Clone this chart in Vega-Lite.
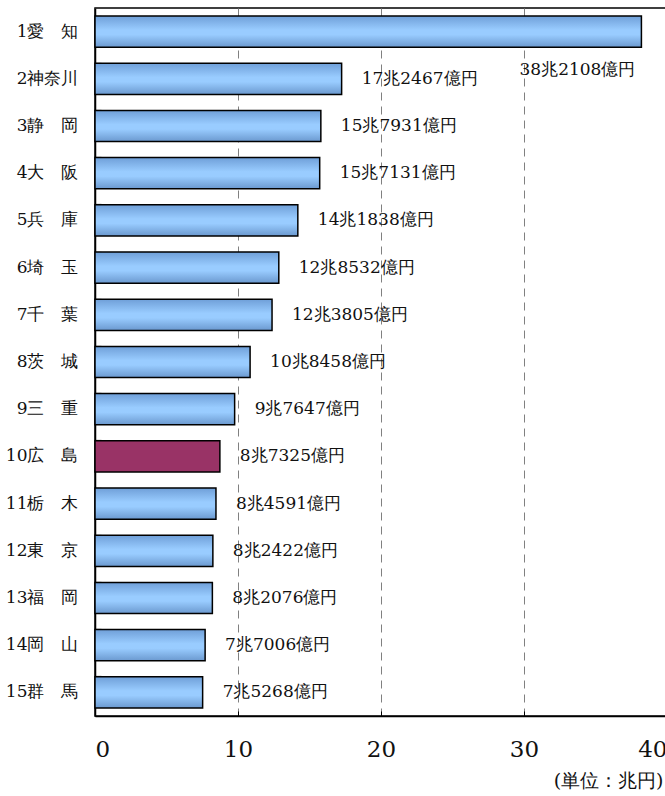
{
  "$schema": "https://vega.github.io/schema/vega-lite/v6.json",
  "autosize": {"type": "none"},
  "padding": {"left": 95, "top": 8, "right": 0, "bottom": 80},
  "width": 572,
  "height": 708,
  "background": "white",
  "config": {
    "view": {"stroke": "black", "strokeWidth": 1.5},
    "font": "DejaVu Serif"
  },
  "data": {
    "values": [
      {"pref": "1愛　知", "value": 38.2108, "label": "38兆2108億円", "hl": "n"},
      {"pref": "2神奈川", "value": 17.2467, "label": "17兆2467億円", "hl": "n"},
      {"pref": "3静　岡", "value": 15.7931, "label": "15兆7931億円", "hl": "n"},
      {"pref": "4大　阪", "value": 15.7131, "label": "15兆7131億円", "hl": "n"},
      {"pref": "5兵　庫", "value": 14.1838, "label": "14兆1838億円", "hl": "n"},
      {"pref": "6埼　玉", "value": 12.8532, "label": "12兆8532億円", "hl": "n"},
      {"pref": "7千　葉", "value": 12.3805, "label": "12兆3805億円", "hl": "n"},
      {"pref": "8茨　城", "value": 10.8458, "label": "10兆8458億円", "hl": "n"},
      {"pref": "9三　重", "value": 9.7647, "label": "9兆7647億円", "hl": "n"},
      {"pref": "10広　島", "value": 8.7325, "label": "8兆7325億円", "hl": "y"},
      {"pref": "11栃　木", "value": 8.4591, "label": "8兆4591億円", "hl": "n"},
      {"pref": "12東　京", "value": 8.2422, "label": "8兆2422億円", "hl": "n"},
      {"pref": "13福　岡", "value": 8.2076, "label": "8兆2076億円", "hl": "n"},
      {"pref": "14岡　山", "value": 7.7006, "label": "7兆7006億円", "hl": "n"},
      {"pref": "15群　馬", "value": 7.5268, "label": "7兆5268億円", "hl": "n"}
    ]
  },
  "encoding": {
    "y": {
      "field": "pref", "type": "nominal",
      "sort": ["1愛　知", "2神奈川", "3静　岡", "4大　阪", "5兵　庫", "6埼　玉", "7千　葉", "8茨　城", "9三　重", "10広　島", "11栃　木", "12東　京", "13福　岡", "14岡　山", "15群　馬"],
      "scale": {"paddingInner": 0.34, "paddingOuter": 0.17},
      "axis": {
        "title": null, "domain": true, "domainColor": "black", "domainWidth": 1.5,
        "bandPosition": 0, "tickSize": -6, "tickColor": "black", "tickWidth": 1.2,
        "labelFontSize": 17, "labelColor": "#111", "labelPadding": 23,
        "labelFont": "DejaVu Serif"
      }
    },
    "x": {
      "field": "value", "type": "quantitative",
      "scale": {"domain": [0, 40], "nice": false},
      "axis": {
        "values": [0, 10, 20, 30, 40],
        "grid": true, "gridDash": [8, 6], "gridColor": "#808080", "gridWidth": 1,
        "domain": true, "domainColor": "black", "domainWidth": 1.5,
        "ticks": true, "tickSize": -5, "tickColor": "black",
        "labelFontSize": 23, "labelColor": "#111", "labelPadding": 27,
        "labelFont": "DejaVu Serif",
        "title": "(単位：兆円)", "titleFontSize": 19, "titleFontWeight": "normal",
        "titleColor": "#111", "titleAnchor": "end", "titleAlign": "right",
        "titleX": 568, "titleY": 74, "titleBaseline": "bottom",
        "titleFont": "DejaVu Serif"
      }
    }
  },
  "layer": [
    {
      "transform": [{"filter": "datum.hl == 'n'"}],
      "mark": {
        "type": "bar", "stroke": "black", "strokeWidth": 1.5,
        "color": {"gradient": "linear", "x1": 0, "y1": 0, "x2": 0, "y2": 1,
          "stops": [
            {"offset": 0, "color": "#6f9fd8"},
            {"offset": 0.45, "color": "#99ccff"},
            {"offset": 0.6, "color": "#99ccff"},
            {"offset": 1, "color": "#6b99cf"}
          ]}
      }
    },
    {
      "transform": [{"filter": "datum.hl == 'y'"}],
      "mark": {"type": "bar", "stroke": "black", "strokeWidth": 1.5, "color": "#993366"}
    },
    {
      "transform": [{"filter": "datum.value < 30"}],
      "mark": {"type": "text", "align": "left", "dx": 20, "fontSize": 17, "color": "#111",
               "font": "DejaVu Serif"},
      "encoding": {"text": {"field": "label"}}
    },
    {
      "transform": [{"filter": "datum.value >= 30"}],
      "mark": {"type": "text", "align": "right", "dx": -6, "dy": 38, "fontSize": 17, "color": "#111",
               "font": "DejaVu Serif"},
      "encoding": {"text": {"field": "label"}}
    }
  ]
}
